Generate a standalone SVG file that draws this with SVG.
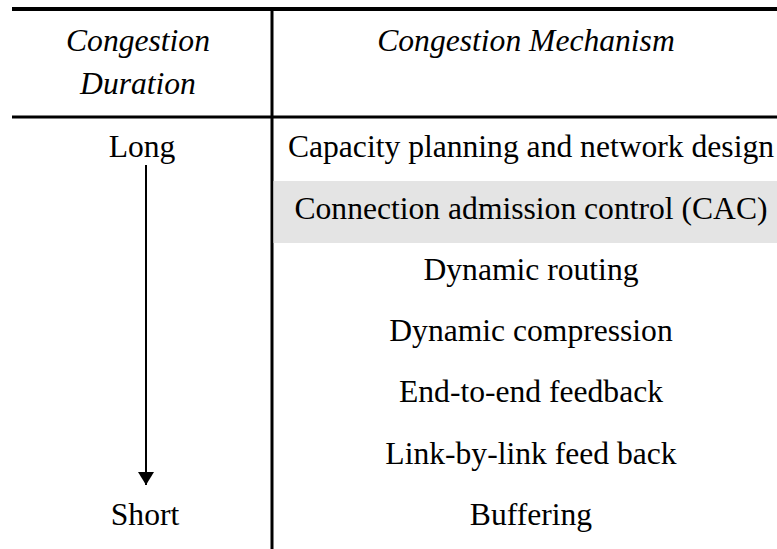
<svg xmlns="http://www.w3.org/2000/svg" width="777" height="549" viewBox="0 0 777 549">
<style>
text{font-family:'Liberation Serif','Times New Roman',Tinos,serif;font-size:31.6px;fill:#000;text-anchor:middle}
.h{font-style:italic}
.rule{stroke:#000;fill:none}
</style>
<defs>
<marker id="ah" viewBox="0 0 13 16" refX="13" refY="8" markerWidth="13" markerHeight="16" markerUnits="userSpaceOnUse" orient="auto">
<path d="M0,0 L13,8 L0,16 Z" fill="#000"/>
</marker>
</defs>
<rect width="777" height="549" fill="#fff"/>
<g id="table-lines">
<line class="rule" x1="12" y1="9" x2="777" y2="9" stroke-width="4"/>
<line class="rule" x1="12" y1="117" x2="777" y2="117" stroke-width="3"/>
<line class="rule" x1="272" y1="9" x2="272" y2="549" stroke-width="3"/>
</g>
<g id="header">
<text class="h" x="138" y="51">Congestion</text>
<text class="h" x="138" y="94">Duration</text>
<text class="h" x="526" y="51">Congestion Mechanism</text>
</g>
<g id="cac-band">
<rect x="273.5" y="181" width="503.5" height="62" fill="#e4e4e4"/>
</g>
<g id="duration-labels">
<text id="long" x="142" y="157">Long</text>
<text id="short" x="145" y="525">Short</text>
</g>
<g id="connectors">
<line class="rule" x1="146" y1="165" x2="146" y2="485" stroke-width="2" marker-end="url(#ah)"/>
</g>
<g id="mechanisms">
<text id="m1" x="531" y="157">Capacity planning and network design</text>
<text id="m2" x="531" y="219">Connection admission control (CAC)</text>
<text id="m3" x="531" y="280">Dynamic routing</text>
<text id="m4" x="531" y="341">Dynamic compression</text>
<text id="m5" x="531" y="402">End-to-end feedback</text>
<text id="m6" x="531" y="464">Link-by-link feed back</text>
<text id="m7" x="531" y="525">Buffering</text>
</g>
</svg>
